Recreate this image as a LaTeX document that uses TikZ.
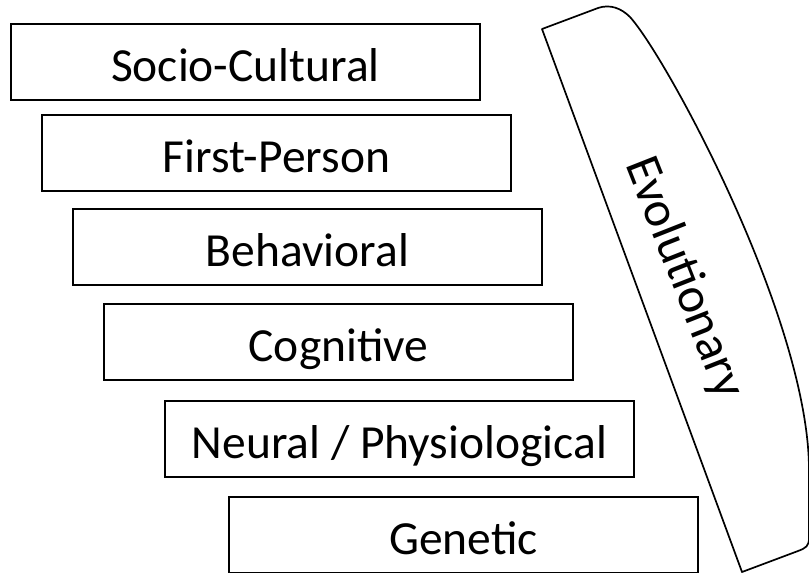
\documentclass[tikz,border=0pt]{standalone}
\usepackage{fontspec}
\setmainfont{Carlito}
\begin{document}
\begin{tikzpicture}[x=1pt,y=-1pt,
  level/.style={draw=black, line width=2pt, rectangle, minimum width=469pt,
    minimum height=76pt, inner sep=0pt, font=\fontsize{47.5}{50}\selectfont,
    text height=39pt, text depth=0pt},
  evo/.style={draw=black, line width=1.7pt, line join=round}]
\useasboundingbox (0,0) rectangle (809,573);

% stacked levels of explanation
\node[level] (socio)   at (245.5,62)  {Socio-Cultural};
\node[level] (first)   at (276.5,153) {First-Person};
\node[level] (behav)   at (307.5,246.5) {Behavioral};
\node[level] (cog)     at (338.5,342) {Cognitive};
\node[level] (neural)  at (399.5,438.5) {Neural / Physiological};
\node[level] (genetic) at (463.5,535) {Genetic};

% the slanted band spanning all levels
\draw[evo] (542,29) -- (598,8)
  .. controls (610,4) and (621,8) .. (630,17)
  .. controls (667,58) and (809,320) .. (809,470)
  -- (809,538)
  .. controls (809,546) and (806,548) .. (798,551)
  -- (742,572) -- cycle;
\node[font=\fontsize{50}{54}\selectfont, rotate=-68.5, inner sep=0pt]
  (evolutionary) at (684,278) {Evolutionary};
\end{tikzpicture}
\end{document}
